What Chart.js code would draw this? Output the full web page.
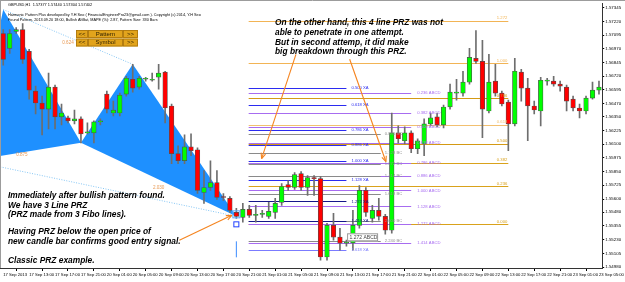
<!DOCTYPE html>
<html>
<head>
<meta charset="utf-8">
<script src="https://cdn.jsdelivr.net/npm/chart.js@4.4.1/dist/chart.umd.min.js"></script>
<style>
  html, body { margin: 0; padding: 0; background: #fff; }
  #wrap { width: 625px; height: 282px; position: relative; }
</style>
</head>
<body>
<div id="wrap"><canvas id="chart"></canvas></div>
<script>
// GBPUSD H1 candles, one entry per bar
var opens = [1.57109,1.56973,1.57127,1.57145,1.56946,1.56584,1.56475,1.56420,1.56620,1.56348,
  1.56339,1.56312,1.56330,1.56203,1.56203,1.56303,1.56556,1.56384,1.56384,1.56556,
  1.56692,1.56620,1.56692,1.56683,1.56710,1.56756,1.56448,1.56013,1.55949,1.56076,
  1.56049,1.55659,1.55705,1.55750,1.55623,1.55605,1.55478,1.55433,1.55505,1.55451,
  1.55460,1.55442,1.55478,1.55569,1.55732,1.55705,1.55832,1.55705,1.55795,1.55786,
  1.55071,1.55360,1.55252,1.55197,1.55200,1.55360,1.55678,1.55424,1.55496,1.55442,
  1.55315,1.56203,1.56131,1.56203,1.56058,1.56103,1.56285,1.56348,1.56276,1.56439,
  1.56565,1.56565,1.56665,1.56883,1.56855,1.56402,1.56674,1.56565,1.56484,1.56285,
  1.56756,1.56611,1.56448,1.56402,1.56674,1.56674,1.56647,1.56620,1.56511,1.56430,
  1.56402,1.56520,1.56593];
var highs = [1.57145,1.57145,1.57163,1.57200,1.56964,1.56629,1.56538,1.56747,1.56638,1.56466,
  1.56357,1.56411,1.56348,1.56294,1.56312,1.56330,1.56584,1.56493,1.56565,1.56719,
  1.56828,1.56719,1.56710,1.56747,1.56828,1.56765,1.56466,1.56085,1.56185,1.56194,
  1.56067,1.55859,1.55949,1.55859,1.55650,1.55623,1.55514,1.55560,1.55542,1.55542,
  1.55496,1.55569,1.55605,1.55741,1.55768,1.55841,1.55850,1.55813,1.55813,1.55804,
  1.55379,1.55469,1.55333,1.55225,1.55496,1.55723,1.55705,1.55542,1.55605,1.55460,
  1.56384,1.56266,1.56257,1.56221,1.56149,1.56330,1.56384,1.56384,1.56457,1.56647,
  1.56692,1.56765,1.56973,1.57136,1.57046,1.56919,1.56828,1.56584,1.56502,1.56883,
  1.56783,1.56701,1.56493,1.56710,1.56701,1.56719,1.56674,1.56638,1.56538,1.56466,
  1.56538,1.56665,1.56674];
var lows = [1.56819,1.56928,1.57109,1.56837,1.56511,1.56375,1.56185,1.56239,1.56239,1.56276,
  1.56294,1.56285,1.56112,1.56194,1.56112,1.56276,1.56384,1.56357,1.56357,1.56538,
  1.56574,1.56602,1.56674,1.56674,1.56602,1.56294,1.55922,1.55922,1.55922,1.55995,
  1.55650,1.55560,1.55678,1.55596,1.55587,1.55478,1.55424,1.55388,1.55433,1.55388,
  1.55433,1.55424,1.55424,1.55542,1.55678,1.55687,1.55678,1.55632,1.55632,1.55043,
  1.55043,1.55225,1.55134,1.55170,1.55134,1.55333,1.55442,1.55388,1.55406,1.55279,
  1.55288,1.56112,1.56103,1.56022,1.56013,1.55995,1.56266,1.56257,1.56248,1.56420,
  1.56502,1.56538,1.56647,1.56837,1.56158,1.56384,1.56538,1.56448,1.56040,1.56266,
  1.56493,1.56131,1.56375,1.56266,1.56638,1.56629,1.56584,1.56402,1.56402,1.56339,
  1.56375,1.56511,1.56556];
var closes = [1.56873,1.57109,1.57145,1.56873,1.56593,1.56475,1.56420,1.56620,1.56348,1.56384,
  1.56312,1.56330,1.56194,1.56212,1.56303,1.56312,1.56420,1.56411,1.56547,1.56701,
  1.56611,1.56701,1.56695,1.56692,1.56747,1.56430,1.56013,1.55949,1.56076,1.56040,
  1.55678,1.55705,1.55750,1.55614,1.55614,1.55496,1.55442,1.55505,1.55451,1.55460,
  1.55462,1.55487,1.55560,1.55714,1.55705,1.55823,1.55705,1.55795,1.55786,1.55071,
  1.55360,1.55252,1.55197,1.55200,1.55360,1.55678,1.55478,1.55496,1.55442,1.55315,
  1.56203,1.56149,1.56203,1.56058,1.56131,1.56285,1.56339,1.56276,1.56439,1.56574,
  1.56574,1.56665,1.56892,1.56855,1.56420,1.56665,1.56565,1.56466,1.56285,1.56765,
  1.56611,1.56448,1.56411,1.56683,1.56677,1.56647,1.56629,1.56493,1.56430,1.56402,
  1.56520,1.56593,1.56620];

// axis labels
var timeTickBars = [0,4,8,12,16,20,24,28,32,36,40,44,48,52,56,60,64,68,72,76,80,84,88,92];
var timeLabels = ['17 Sep 2013','17 Sep 13:00','17 Sep 17:00','17 Sep 21:00','20 Sep 01:00','20 Sep 05:00',
  '20 Sep 09:00','20 Sep 13:00','20 Sep 17:00','20 Sep 21:00','21 Sep 01:00','21 Sep 05:00',
  '21 Sep 09:00','21 Sep 13:00','21 Sep 17:00','21 Sep 21:00','22 Sep 01:00','22 Sep 05:00',
  '22 Sep 09:00','22 Sep 13:00','22 Sep 17:00','22 Sep 21:00','23 Sep 01:00','23 Sep 05:00'];
var priceTicks = [1.57345,1.57220,1.57095,1.56970,1.56845,1.56720,1.56595,1.56470,1.56350,1.56225,
  1.56100,1.55975,1.55850,1.55725,1.55600,1.55480,1.55355,1.55230,1.55105,1.54980];

// harmonic pattern points X A B C D
var patternBars = [-5, 0, 12, 20, 36];
var patternPrices = [1.55949, 1.57327, 1.56112, 1.56828, 1.55442];
var patternRatios = ['0.624', '0.875', '2.030'];

// PRZ levels
var xaRatios = ['0.500','0.618','0.786','0.886','1.000','1.128','1.272','1.414','1.618'];
var xaPrices = [1.56611,1.56457,1.56230,1.56094,1.55949,1.55777,1.55578,1.55397,1.55134];
var bcRatios = ['0.886','1.128','1.272','1.414','1.618','2.000','2.240'];
var bcPrices = [1.56194,1.56022,1.55922,1.55813,1.55650,1.55397,1.55216];
var abcdRatios = ['0.236','0.382','0.500','0.618','0.786','0.886','1.000','1.128','1.272','1.414'];
var abcdPrices = [1.56565,1.56384,1.56257,1.56112,1.55931,1.55813,1.55678,1.55533,1.55370,1.55197];
var fiboRatios = ['1.272','1.000','0.786','0.618','0.500','0.382','0.236','0.000'];
var fiboPrices = [1.57227,1.56837,1.56520,1.56276,1.56103,1.55931,1.55714,1.55370];

// arrows: [fromBar, fromPrice, toBar, toPrice]
var arrows = [[45.2, 1.56919, 39.9, 1.55968], [53.5, 1.56874, 59.1, 1.55940], [27.2, 1.55225, 35.3, 1.55451]];

var leftNote = ['Immediately after bullish pattern found.', 'We have 3 Line PRZ', '(PRZ made from 3 Fibo lines).',
  'Having PRZ below the open price of', 'new candle bar confirms good entry signal.', 'Classic PRZ example.'];
var rightNote = ['On the other hand, this 4 line PRZ was not', 'able to penetrate in one attempt.',
  'But in second attemp, it did make', 'big breakdown through this PRZ.'];

// layout / style (not data)
var leftNoteY = [196, 205.5, 215, 232, 241.5, 261];
var rightNoteY = [23, 33, 42.7, 52];
var levelStart = 37.9;
var xaColors = ['#2b2bf0','#2b2bf0','#2b2bf0','#2b2bf0','#2b2bf0','#2b2bf0','#16168a','#16168a','#7b7bff'];
var fiboColors = ['#f2b455','#f2b455','#d49a14','#f2c070','#d49a14','#d9a21b','#d9a21b','#d9a21b'];

var bars = opens.map(function(v, i) { return i; });
var bodyColors = bars.map(function(i) { return closes[i] >= opens[i] ? '#00ff00' : '#ff0000'; });

function drawArrow(ctx, x1, y1, x2, y2) {
  var ang = Math.atan2(y2 - y1, x2 - x1);
  ctx.beginPath(); ctx.moveTo(x1, y1); ctx.lineTo(x2, y2); ctx.stroke();
  ctx.beginPath();
  ctx.moveTo(x2, y2);
  ctx.lineTo(x2 - 6 * Math.cos(ang - 0.4), y2 - 6 * Math.sin(ang - 0.4));
  ctx.moveTo(x2, y2);
  ctx.lineTo(x2 - 6 * Math.cos(ang + 0.4), y2 - 6 * Math.sin(ang + 0.4));
  ctx.stroke();
}

var overlay = {
  id: 'overlay',
  beforeDatasetsDraw: function(chart) {
    var ctx = chart.ctx, a = chart.chartArea, xs = chart.scales.x, ys = chart.scales.y;
    var X = function(v) { return xs.getPixelForValue(v); };
    var Y = function(v) { return ys.getPixelForValue(v); };
    ctx.save();
    ctx.beginPath(); ctx.rect(a.left, a.top, a.right - a.left, a.bottom - a.top); ctx.clip();

    // pattern triangles XAB and BCD
    ctx.fillStyle = '#1e90ff';
    [[0, 1, 2], [2, 3, 4]].forEach(function(t) {
      ctx.beginPath();
      t.forEach(function(k, j) {
        var px = X(patternBars[k]), py = Y(patternPrices[k]);
        if (j) ctx.lineTo(px, py); else ctx.moveTo(px, py);
      });
      ctx.closePath(); ctx.fill();
    });

    // dotted A-C and X-D
    ctx.strokeStyle = '#86c6f4'; ctx.lineWidth = 1; ctx.setLineDash([1, 1.5]);
    [[1, 3], [0, 4]].forEach(function(e) {
      ctx.beginPath();
      ctx.moveTo(X(patternBars[e[0]]), Y(patternPrices[e[0]]));
      ctx.lineTo(X(patternBars[e[1]]), Y(patternPrices[e[1]]));
      ctx.stroke();
    });
    ctx.setLineDash([]);

    function levels(prices, end, color) {
      prices.forEach(function(p, i) {
        var yy = Math.round(Y(p)) + 0.5;
        ctx.strokeStyle = typeof color === 'string' ? color : color[i];
        ctx.beginPath(); ctx.moveTo(X(levelStart), yy); ctx.lineTo(X(end), yy); ctx.stroke();
      });
    }
    ctx.lineWidth = 1;
    levels(fiboPrices, 78, fiboColors);
    levels(abcdPrices, 63, '#a76cf0');
    levels(bcPrices, 58.3, '#8a8a8a');
    levels(xaPrices, 53, xaColors);
    ctx.restore();
  },
  afterDatasetsDraw: function(chart) {
    var ctx = chart.ctx, xs = chart.scales.x, ys = chart.scales.y;
    var X = function(v) { return xs.getPixelForValue(v); };
    var Y = function(v) { return ys.getPixelForValue(v); };
    ctx.save();
    ctx.font = '4.2px "Liberation Sans"';
    ctx.textBaseline = 'middle';
    ctx.textAlign = 'left';
    xaRatios.forEach(function(r, i) { ctx.fillStyle = xaColors[i]; ctx.fillText(r + ' XA', X(53) + 5, Y(xaPrices[i])); });
    ctx.fillStyle = '#8f8f8f';
    bcRatios.forEach(function(r, i) { ctx.fillText(r + ' BC', X(58.3) + 4, Y(bcPrices[i])); });
    ctx.fillStyle = '#a76cf0';
    abcdRatios.forEach(function(r, i) {
      ctx.fillText(r + ' ABCD', X(63) + 6, Y(abcdPrices[i]));
    });
    ctx.textAlign = 'right'; ctx.textBaseline = 'alphabetic';
    fiboRatios.forEach(function(r, i) { ctx.fillStyle = fiboColors[i]; ctx.fillText(r, X(78) - 1, Y(fiboPrices[i]) - 1.5); });

    // pattern ratio labels
    ctx.textAlign = 'center'; ctx.textBaseline = 'middle'; ctx.fillStyle = '#e89a55';
    ctx.font = '4.6px "Liberation Sans"';
    [[1, 3, 0, 6], [0, 2, -4, 3], [2, 4, 0, 8]].forEach(function(e, i) {
      var mx = (X(patternBars[e[0]]) + X(patternBars[e[1]])) / 2 + e[2];
      var my = (Y(patternPrices[e[0]]) + Y(patternPrices[e[1]])) / 2 + e[3];
      ctx.fillText(patternRatios[i], mx, my);
    });

    // D markers
    var dx = X(patternBars[4]), dy = Y(patternPrices[4]);
    ctx.strokeStyle = '#5aaaff'; ctx.lineWidth = 1;
    ctx.strokeRect(dx - 3.5, dy - 5.5, 7, 7);
    ctx.strokeStyle = '#2040ff';
    ctx.strokeRect(dx - 2.5, dy + 5.5, 5, 5);
    ctx.strokeStyle = '#3a8cff';
    ctx.beginPath(); ctx.moveTo(dx, dy + 25); ctx.lineTo(dx, dy + 41); ctx.stroke();

    // 1.272 ABCD box
    var bx = X(53.1), by = Y(1.55251);
    ctx.fillStyle = '#ffffff'; ctx.strokeStyle = '#9a9a9a';
    ctx.fillRect(bx, by - 4, 31, 8); ctx.strokeRect(bx + 0.5, by - 3.5, 30, 7);
    ctx.fillStyle = '#444'; ctx.font = '5px "Liberation Sans"'; ctx.textAlign = 'left';
    ctx.fillText('1.272 ABCD', bx + 2.5, by + 0.5);
    ctx.restore();
  },
  afterDraw: function(chart) {
    var ctx = chart.ctx, xs = chart.scales.x, ys = chart.scales.y;
    var X = function(v) { return xs.getPixelForValue(v); };
    var Y = function(v) { return ys.getPixelForValue(v); };
    ctx.save();
    // arrows
    ctx.strokeStyle = '#f5841f'; ctx.lineWidth = 1.1;
    arrows.forEach(function(r) { drawArrow(ctx, X(r[0]), Y(r[1]), X(r[2]), Y(r[3])); });

    // notes
    ctx.fillStyle = '#000'; ctx.textAlign = 'left'; ctx.textBaseline = 'middle';
    ctx.font = 'italic bold 8.4px "Liberation Sans"';
    leftNote.forEach(function(t, i) { ctx.fillText(t, 8, leftNoteY[i]); });
    rightNote.forEach(function(t, i) { ctx.fillText(t, 275, rightNoteY[i]); });

    // header
    ctx.font = '3.9px "Liberation Sans"';
    ctx.fillText('GBPUSD,H1  1.57377 1.57440 1.57304 1.57402', 8, 5);
    ctx.font = '3.8px "Liberation Sans"';
    ctx.fillText('Harmonic Pattern Plus developed by Y.H Seo ( FinancialEngineerPro23@gmail.com ). Copyright (c) 2014, Y.H Seo', 8, 15);
    ctx.fillText('Found Pattern, 2013.09.20 18:00, Bullish AltBat, MAPE (%): 2.87, Pattern Size: 330 Bars', 8, 19.5);

    // buttons
    [['<<', 76, 12], ['Pattern', 88, 35], ['>>', 123, 15]].forEach(function(b) {
      [30, 38.5].forEach(function(top, k) {
        ctx.fillStyle = '#e2a41c'; ctx.fillRect(b[1], top, b[2], 8);
        ctx.strokeStyle = '#a8740e'; ctx.lineWidth = 0.8; ctx.strokeRect(b[1] + 0.5, top + 0.5, b[2] - 1, 7);
        ctx.fillStyle = '#2a1d00'; ctx.textAlign = 'center';
        ctx.font = '6px "Liberation Sans"';
        var txt = b[0] === 'Pattern' && k === 1 ? 'Symbol' : b[0];
        ctx.fillText(txt, b[1] + b[2] / 2, top + 4.3);
      });
    });

    // window frame
    ctx.strokeStyle = '#9c9c9c'; ctx.lineWidth = 1;
    ctx.beginPath(); ctx.moveTo(0, 0.5); ctx.lineTo(625, 0.5); ctx.moveTo(0.5, 0); ctx.lineTo(0.5, 268); ctx.stroke();
    ctx.restore();
  }
};

var ctx = document.getElementById('chart').getContext('2d');
var chart = new Chart(ctx, {
  type: 'bar',
  data: {
    datasets: [{
      label: 'Body',
      data: bars.map(function(i) { return { x: i, y: [opens[i], closes[i]] }; }),
      backgroundColor: bodyColors,
      borderColor: '#505050',
      borderWidth: 0.7,
      borderSkipped: false,
      barThickness: 4.6,
      minBarLength: 1,
      grouped: false,
      order: 0
    }, {
      label: 'Wick',
      data: bars.map(function(i) { return { x: i, y: [lows[i], highs[i]] }; }),
      backgroundColor: '#6e6e6e',
      barThickness: 1,
      grouped: false,
      order: 1
    }]
  },
  options: {
    responsive: true,
    maintainAspectRatio: false,
    animation: false,
    devicePixelRatio: 1,
    layout: { padding: { top: 2, left: 0, right: 0, bottom: 0 } },
    plugins: { legend: { display: false }, tooltip: { enabled: false } },
    scales: {
      x: {
        type: 'linear',
        min: -0.5,
        max: 92.5,
        offset: false,
        afterBuildTicks: function(scale) { scale.ticks = timeTickBars.map(function(v) { return { value: v }; }); },
        afterFit: function(scale) { scale.height = 14; },
        ticks: {
          autoSkip: false, maxRotation: 0, minRotation: 0, align: 'start', padding: 1,
          color: '#000', font: { family: 'Liberation Sans', size: 4.2 },
          callback: function(v) { return timeLabels[timeTickBars.indexOf(v)]; }
        },
        grid: { drawOnChartArea: false, tickLength: 3, color: '#000' },
        border: { color: '#333' }
      },
      y: {
        type: 'linear',
        position: 'right',
        min: 1.54971,
        max: 1.57381,
        afterBuildTicks: function(scale) { scale.ticks = priceTicks.map(function(v) { return { value: v }; }); },
        afterFit: function(scale) { scale.width = 20; },
        ticks: {
          padding: 1, color: '#000', font: { family: 'Liberation Sans', size: 4.4 },
          callback: function(v) { return v.toFixed(5); }
        },
        grid: { drawOnChartArea: false, tickLength: 2, color: '#000' },
        border: { color: '#333' }
      }
    }
  },
  plugins: [overlay]
});
</script>
</body>
</html>
